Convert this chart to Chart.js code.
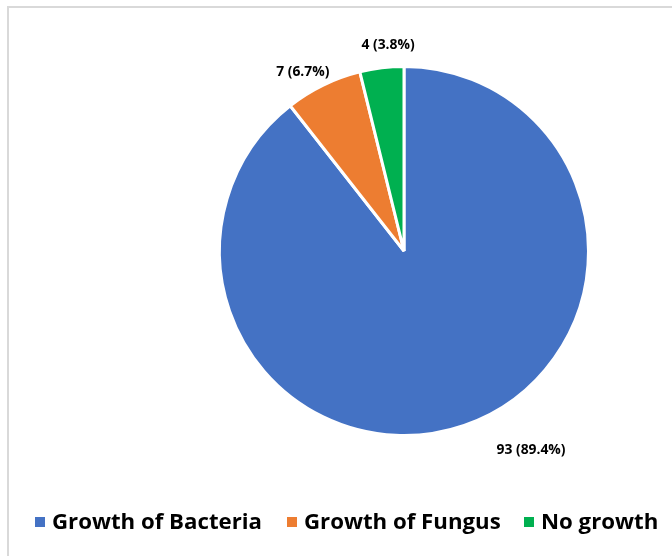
<!DOCTYPE html>
<html>
<head>
<meta charset="utf-8">
<script src="https://cdn.jsdelivr.net/npm/chart.js@4.4.1/dist/chart.umd.min.js"></script>
<style>
  html, body { margin: 0; padding: 0; background: #fff; }
  body { width: 672px; height: 556px; position: relative; overflow: hidden; font-family: "Open Sans", sans-serif; }
  #frame { position: absolute; left: 7px; top: 6px; width: 700px; height: 600px; border: 2px solid #d9d9d9; box-sizing: border-box; }
  #wrap { position: absolute; left: 0; top: 0; width: 672px; height: 556px; }
  #legend { position: absolute; left: 0; top: 506px; width: 672px; height: 30px; }
  .item { position: absolute; top: 0; font-weight: 700; line-height: 30px; color: #000; white-space: nowrap; }
  .sw { position: absolute; width: 10px; height: 10px; top: 11px; }
</style>
</head>
<body>
<div id="frame"></div>
<div id="wrap"><canvas id="c" width="672" height="556"></canvas></div>
<div id="legend"></div>
<script>
// Culture results
const categories = ["Growth of Bacteria", "Growth of Fungus", "No growth"];
const counts = [93, 7, 4];
const percents = [89.4, 6.7, 3.8];
const colors = ["#4472C4", "#ED7D31", "#00B050"];

const FONT = "'Open Sans', 'Noto Sans', sans-serif";

// Fit a bold font size so a string spans the given width
function fitSize(text, width) {
  const m = document.createElement("canvas").getContext("2d");
  m.font = "700 20px " + FONT;
  return 20 * width / m.measureText(text).width;
}
const labelSize = fitSize("93 (89.4%)", 69);
const legendSize = fitSize("Growth of Bacteria", 210);

// Data label placement around each slice: angle shift (deg) from slice middle and distance factor of radius
const labelPlacement = [
  { shift: -13.5, dist: 1.28 },
  { shift: -3.5, dist: 1.115 },
  { shift: 2.5, dist: 1.12 }
];

const dataLabels = {
  id: "dataLabels",
  afterDatasetsDraw(chart) {
    const ctx = chart.ctx;
    const meta = chart.getDatasetMeta(0);
    ctx.save();
    ctx.font = "700 " + labelSize.toFixed(2) + "px " + FONT;
    ctx.fillStyle = "#000";
    ctx.textAlign = "center";
    ctx.textBaseline = "middle";
    meta.data.forEach((arc, i) => {
      const p = arc.getProps(["x", "y", "startAngle", "endAngle", "outerRadius"], true);
      const mid = (p.startAngle + p.endAngle) / 2 + labelPlacement[i].shift * Math.PI / 180;
      const r = p.outerRadius * labelPlacement[i].dist;
      const text = counts[i] + " (" + percents[i].toFixed(1) + "%)";
      ctx.fillText(text, p.x + Math.cos(mid) * r, p.y + Math.sin(mid) * r);
    });
    ctx.restore();
  }
};

new Chart(document.getElementById("c"), {
  type: "pie",
  data: {
    labels: categories,
    datasets: [{
      data: counts,
      backgroundColor: colors,
      borderColor: "#ffffff",
      borderWidth: 3
    }]
  },
  options: {
    responsive: false,
    animation: false,
    layout: { padding: { top: 65, left: 160, right: 24, bottom: 119 } },
    plugins: {
      legend: { display: false },
      tooltip: { enabled: false }
    }
  },
  plugins: [dataLabels]
});

// Legend row beneath the pie
const legendX = [35, 287, 524];
const legend = document.getElementById("legend");
categories.forEach((name, i) => {
  const sw = document.createElement("div");
  sw.className = "sw";
  sw.style.left = legendX[i] + "px";
  sw.style.background = colors[i];
  legend.appendChild(sw);
  const t = document.createElement("div");
  t.className = "item";
  t.style.left = (legendX[i] + 17) + "px";
  t.style.fontSize = legendSize.toFixed(2) + "px";
  t.textContent = name;
  legend.appendChild(t);
});
</script>
</body>
</html>
